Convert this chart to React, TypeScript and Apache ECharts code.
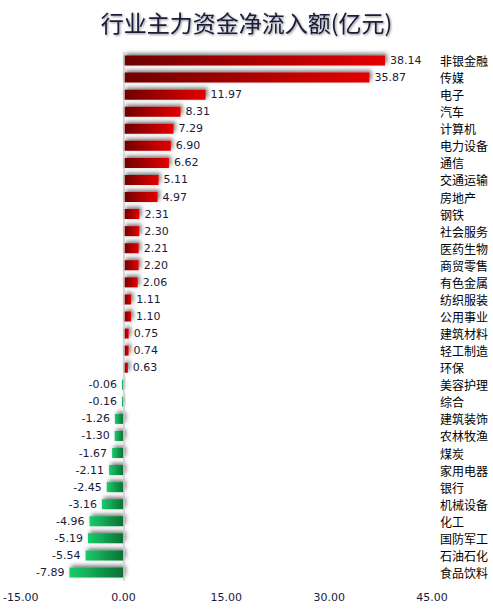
import { useEffect, useRef } from 'react'
import * as echarts from 'echarts'

const industries = [
  '非银金融', '传媒', '电子', '汽车', '计算机', '电力设备', '通信', '交通运输', '房地产', '钢铁',
  '社会服务', '医药生物', '商贸零售', '有色金属', '纺织服装', '公用事业', '建筑材料', '轻工制造', '环保',
  '美容护理', '综合', '建筑装饰', '农林牧渔', '煤炭', '家用电器', '银行', '机械设备', '化工',
  '国防军工', '石油石化', '食品饮料'
]

const netInflow = [
  38.14, 35.87, 11.97, 8.31, 7.29, 6.9, 6.62, 5.11, 4.97, 2.31,
  2.3, 2.21, 2.2, 2.06, 1.11, 1.1, 0.75, 0.74, 0.63,
  -0.06, -0.16, -1.26, -1.3, -1.67, -2.11, -2.45, -3.16, -4.96,
  -5.19, -5.54, -7.89
]

const axisMin = -15
const axisMax = 45
const axisStep = 15

const redGradient = new echarts.graphic.LinearGradient(0, 0, 1, 0, [
  { offset: 0, color: '#6e0000' },
  { offset: 1, color: '#e40000' }
])

const greenGradient = new echarts.graphic.LinearGradient(0, 0, 1, 0, [
  { offset: 0, color: '#18cc6c' },
  { offset: 1, color: '#0a7034' }
])

export default function App() {
  const chartRef = useRef<HTMLDivElement>(null)

  useEffect(() => {
    if (!chartRef.current) return
    document.body.style.margin = '0'
    document.body.style.overflow = 'hidden'
    const chart = echarts.init(chartRef.current, null, { renderer: 'svg' })

    const option = {
      animation: false,
      backgroundColor: '#ffffff',
      title: {
        text: '行业主力资金净流入额(亿元)',
        left: 'center',
        top: 5,
        textStyle: {
          fontFamily: 'Noto Sans CJK SC',
          fontSize: 23,
          fontWeight: 'normal',
          color: '#1a1a3a',
          textShadowColor: 'rgba(0,0,0,0.45)',
          textShadowBlur: 2,
          textShadowOffsetX: 1,
          textShadowOffsetY: 1
        }
      },
      grid: {
        left: 20,
        right: 61,
        top: 52,
        bottom: 29,
        containLabel: false
      },
      xAxis: {
        type: 'value',
        min: axisMin,
        max: axisMax,
        interval: axisStep,
        axisLine: { show: false },
        axisTick: { show: false },
        splitLine: { show: false },
        axisLabel: {
          formatter: (v: number) => v.toFixed(2),
          color: '#1a1a3a',
          fontSize: 11,
          fontFamily: 'DejaVu Sans',
          margin: 11
        }
      },
      yAxis: {
        type: 'category',
        data: industries,
        inverse: true,
        position: 'right',
        axisLine: { show: false },
        axisTick: { show: false },
        axisLabel: {
          color: '#000000',
          fontSize: 12,
          fontFamily: 'Noto Sans CJK SC',
          margin: 8,
          align: 'left'
        }
      },
      series: [
        {
          type: 'bar',
          barWidth: 10,
          barMinHeight: 1.5,
          data: netInflow.map(v => ({
            value: v,
            itemStyle: {
              color: v >= 0 ? redGradient : greenGradient
            },
            label: {
              position: v >= 0 ? 'right' : 'left'
            }
          })),
          itemStyle: {
            shadowColor: 'rgba(0,0,0,0.55)',
            shadowBlur: 4,
            shadowOffsetX: 2,
            shadowOffsetY: -2
          },
          label: {
            show: true,
            formatter: (p: { value: number }) => p.value.toFixed(2),
            color: '#1a1a3a',
            fontSize: 11,
            fontFamily: 'DejaVu Sans',
            distance: 5
          },
          markLine: {
            silent: true,
            symbol: 'none',
            label: { show: false },
            lineStyle: { color: '#cccccc', width: 1.5, type: 'solid' },
            data: [{ xAxis: 0 }]
          }
        }
      ]
    }

    chart.setOption(option)

    return () => {
      chart.dispose()
    }
  }, [])

  return <div ref={chartRef} style={{ width: '493px', height: '610px' }} />
}
